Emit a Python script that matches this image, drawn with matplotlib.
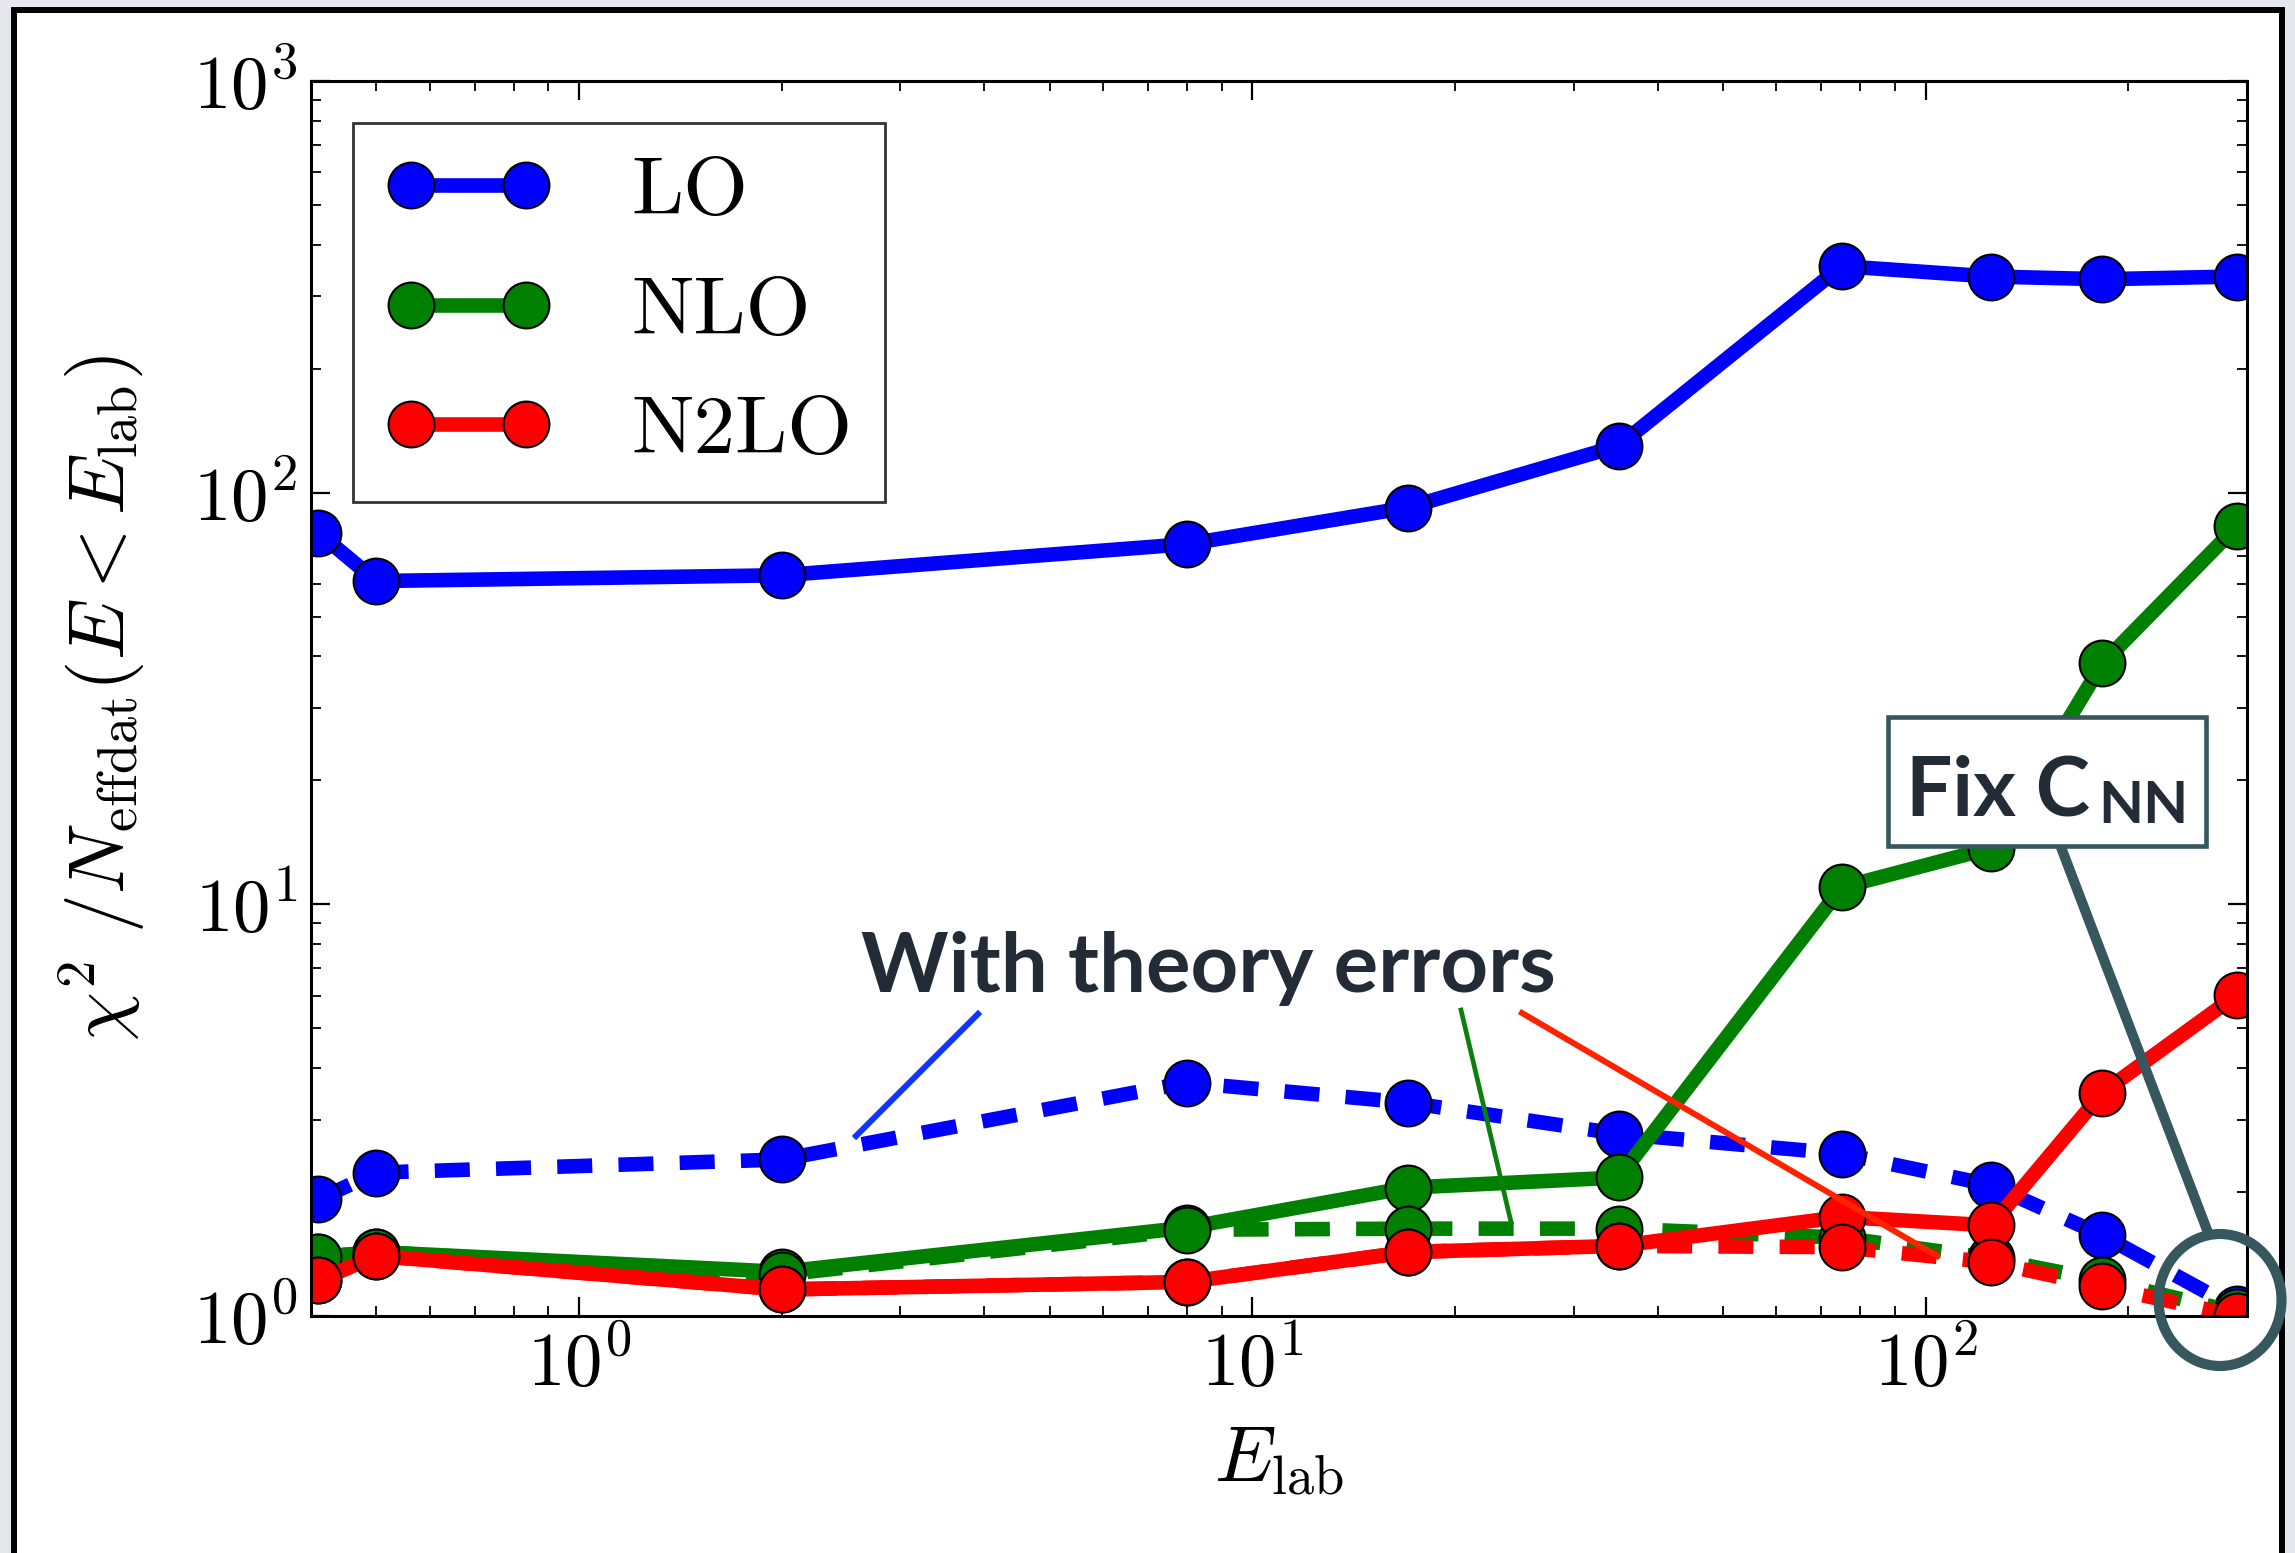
import matplotlib
matplotlib.use("Agg")
import matplotlib.pyplot as plt
from matplotlib.patches import Rectangle, Ellipse
from matplotlib.lines import Line2D

# lab energies of the bins (MeV)
elab = [0.41, 0.5, 2, 8, 17, 35, 75, 125, 183, 290]

# chi^2 per datum, fits without theory errors
chi_lo = [80, 61, 63, 75, 92, 130, 355, 335, 330, 335]
chi_nlo = [1.39, 1.43, 1.28, 1.64, 2.05, 2.17, 11.0, 13.7, 38.5, 83]
chi_n2lo = [1.22, 1.40, 1.16, 1.21, 1.43, 1.48, 1.74, 1.66, 3.49, 6.03]

# same, with theory errors included
chi_lo_th = [1.92, 2.23, 2.40, 3.69, 3.30, 2.77, 2.48, 2.08, 1.57, 1.04]
chi_nlo_th = [1.39, 1.43, 1.26, 1.62, 1.63, 1.63, 1.55, 1.38, 1.22, 1.02]
chi_n2lo_th = [1.22, 1.40, 1.16, 1.21, 1.43, 1.48, 1.47, 1.35, 1.18, 1.0]

orders = ["LO", "NLO", "N2LO"]
colors = ["b", "g", "r"]

W, H = 2295, 1553


def fx(x):
    return x / W


def fy(y):
    return 1 - y / H


plt.rcParams["font.family"] = "serif"
plt.rcParams["font.serif"] = ["cmr10"]
plt.rcParams["mathtext.fontset"] = "cm"
plt.rcParams["axes.formatter.use_mathtext"] = True

fig = plt.figure(figsize=(W / 100, H / 100), dpi=100, facecolor="#e4e7eb")

# slide frame
fig.add_artist(Rectangle((fx(14), fy(1700)), fx(2282) - fx(14), fy(9.5) - fy(1700),
                         transform=fig.transFigure, facecolor="white",
                         edgecolor="black", lw=4.3, zorder=-5))

ax = fig.add_axes([fx(311), fy(1316), fx(2247) - fx(311), fy(81) - fy(1316)])
ax.set_xscale("log")
ax.set_yscale("log")

sty = dict(lw=10.5, marker="o", ms=33, mec="black", mew=1.5)
dash = (0, (2.4, 1.8))
for lab, c, y, yth in zip(orders, colors,
                          [chi_lo, chi_nlo, chi_n2lo],
                          [chi_lo_th, chi_nlo_th, chi_n2lo_th]):
    ax.plot(elab, y, color=c, mfc=c, label=lab, **sty)
    ax.plot(elab, yth, color=c, mfc=c, ls=dash, **sty)

ax.set_xlim(0.4, 300)
ax.set_ylim(1, 1000)

for s in ax.spines.values():
    s.set_linewidth(2.2)
ax.tick_params(which="both", direction="in", top=True, right=True,
               labelsize=54)
ax.tick_params(which="major", length=14, width=1.6, pad=10)
ax.tick_params(which="minor", length=7, width=1.3)

ax.set_xlabel(r"$E_{\mathrm{lab}}$", fontsize=56, labelpad=18)
ax.set_ylabel(r"$\chi^2\ /N_{\mathrm{effdat}}(E<E_{\mathrm{lab}})$",
              fontsize=56, labelpad=32)

leg = ax.legend(loc="upper left", fontsize=60, numpoints=2, handlelength=1.98,
                fancybox=False, borderaxespad=0.5, labelspacing=0.54,
                handletextpad=0.96, borderpad=0.4)
leg.get_frame().set_edgecolor("black")
leg.get_frame().set_linewidth(2)

# annotations
ink = "#232b36"
slate = "#35575d"
fig.text(fx(1208), fy(992), "With theory errors", ha="center", va="baseline",
         family="Lato", weight="bold", size=60, color=ink)
fig.add_artist(Line2D([fx(978), fx(856)], [fy(1014), fy(1136)],
                      transform=fig.transFigure, color="#0a36ff", lw=4.3))
fig.add_artist(Line2D([fx(1461), fx(1511)], [fy(1010), fy(1222)],
                      transform=fig.transFigure, color="#0c800c", lw=3.4))
fig.add_artist(Line2D([fx(1522), fx(1937)], [fy(1013), fy(1256)],
                      transform=fig.transFigure, color="#ff2200", lw=4.3))

fig.add_artist(Rectangle((fx(1888), fy(846)), fx(2206) - fx(1888), fy(717) - fy(846),
                         transform=fig.transFigure, facecolor="white",
                         edgecolor=slate, lw=3.3, zorder=4))
fig.text(fx(1906), fy(815), "Fix C", ha="left", va="baseline", family="Lato",
         weight="bold", size=59, color=ink, zorder=5)
fig.text(fx(2098), fy(823), "NN", ha="left", va="baseline", family="Lato",
         weight="bold", size=42, color=ink, zorder=5)
fig.add_artist(Line2D([fx(2059), fx(2207)], [fy(842), fy(1230)],
                      transform=fig.transFigure, color=slate, lw=7.3))
fig.add_artist(Ellipse((fx(2220), fy(1300)), fx(123), 132 / H,
                       transform=fig.transFigure, fill=False,
                       edgecolor=slate, lw=7.3, zorder=5))

fig.savefig("out.png", dpi=100, facecolor=fig.get_facecolor())
